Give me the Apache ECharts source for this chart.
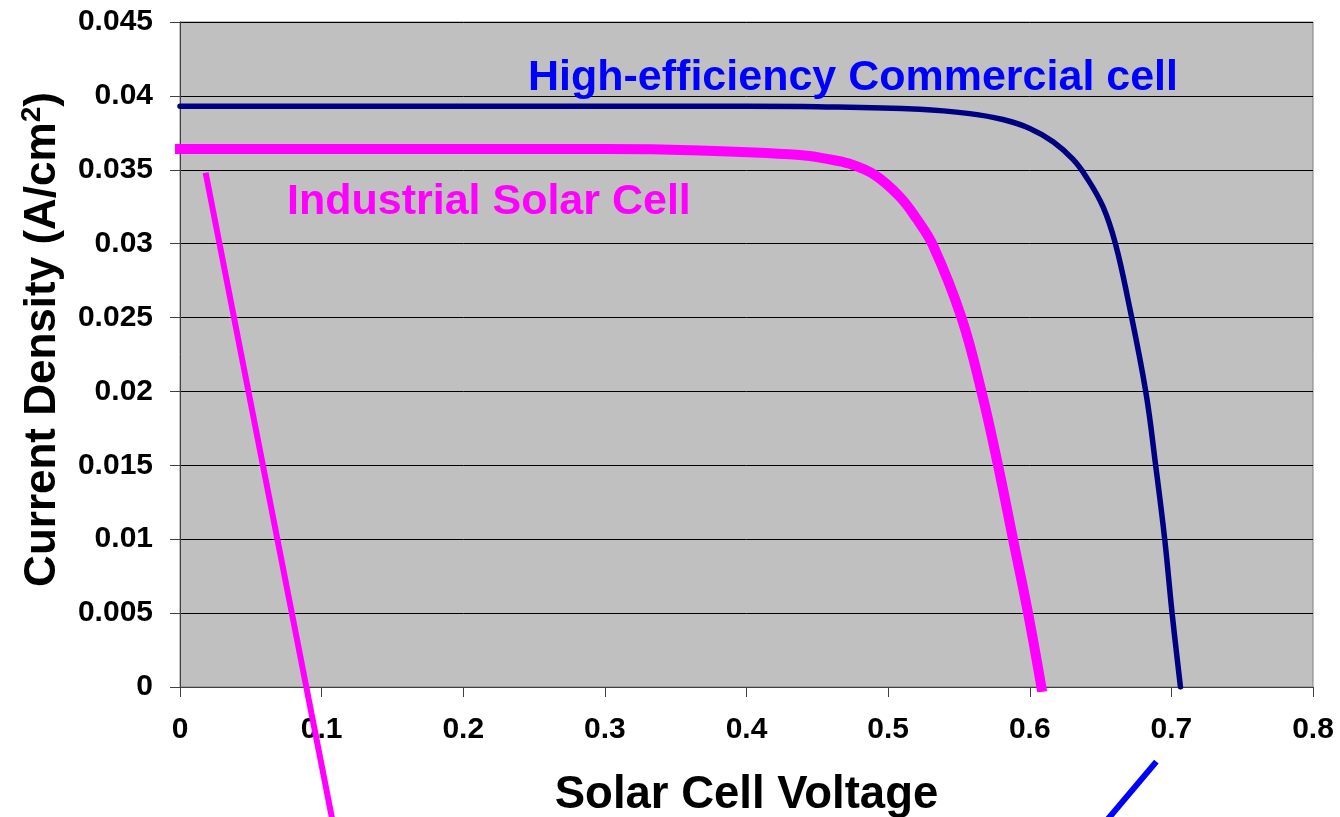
<!DOCTYPE html>
<html>
<head>
<meta charset="utf-8">
<script src="https://cdn.jsdelivr.net/npm/echarts@6/dist/echarts.min.js"></script>
<style>
html,body{margin:0;padding:0;background:#fff;}
#chart{width:1340px;height:817px;}
</style>
</head>
<body>
<div id="chart"></div>
<script>
// High-efficiency commercial cell (voltage V, current density A/cm2)
const highV = [0, 0.1, 0.2, 0.3, 0.4, 0.45, 0.5223, 0.5576, 0.581, 0.600, 0.6165, 0.6306, 0.640, 0.6517, 0.6605, 0.6694, 0.6819, 0.6889, 0.6953, 0.7005, 0.7064];
const highJ = [0.0393, 0.0393, 0.0393, 0.0393, 0.0393, 0.03927, 0.0391, 0.0388, 0.0384, 0.0378, 0.0369, 0.0357, 0.0345, 0.0325, 0.0300, 0.0262, 0.0200, 0.0150, 0.0100, 0.0050, 0];
// Industrial solar cell
const indV = [0, 0.1, 0.2, 0.3, 0.367, 0.4376, 0.456, 0.473, 0.4906, 0.508, 0.520, 0.5316, 0.5518, 0.5659, 0.5776, 0.5882, 0.5988, 0.6082];
const indJ = [0.0364, 0.0364, 0.0364, 0.0364, 0.0363, 0.0360, 0.03575, 0.0354, 0.03465, 0.0332, 0.0317, 0.0299, 0.0250, 0.0200, 0.0150, 0.0100, 0.0050, 0];
// Annotation pointer lines
const pinkPointerV = [0.0181, 0.1086];
const pinkPointerJ = [0.0348, -0.0095];
const bluePointerV = [0.6894, 0.6502];
const bluePointerJ = [-0.00505, -0.0095];
// Labels
const xTickLabels = ['0', '0.1', '0.2', '0.3', '0.4', '0.5', '0.6', '0.7', '0.8'];
const yTickLabels = ['0', '0.005', '0.01', '0.015', '0.02', '0.025', '0.03', '0.035', '0.04', '0.045'];
const highLabel = 'High-efficiency Commercial cell';
const indLabel = 'Industrial Solar Cell';
const xTitle = 'Solar Cell Voltage';

const zip = (a, b) => a.map((v, i) => [v, b[i]]);
const FONT = '"Liberation Sans", Arial, sans-serif';

const chart = echarts.init(document.getElementById('chart'), null, {renderer: 'canvas'});
chart.setOption({
  animation: false,
  backgroundColor: '#ffffff',
  grid: {
    left: 180, right: 27, top: 22, bottom: 130,
    outerBoundsMode: 'none', containLabel: false,
    show: true, backgroundColor: '#C0C0C0', borderColor: '#808080', borderWidth: 1
  },
  xAxis: {
    type: 'value', min: 0, max: 0.8, interval: 0.1,
    name: xTitle, nameLocation: 'middle', nameGap: 85,
    nameTextStyle: {fontFamily: FONT, fontSize: 45.5, fontWeight: 'bold', color: '#000'},
    axisLine: {show: true, onZero: false, lineStyle: {color: '#404040', width: 1}},
    axisTick: {show: true, inside: false, length: 10, lineStyle: {color: '#404040'}},
    splitLine: {show: false},
    axisLabel: {
      fontFamily: FONT, fontSize: 30, fontWeight: 'bold', color: '#000', margin: 28,
      formatter: (v) => xTickLabels[Math.round(v / 0.1)]
    }
  },
  yAxis: {
    type: 'value', min: 0, max: 0.045, interval: 0.005,
    name: 'Current Density (A/cm{sup|2})', nameLocation: 'middle', nameGap: 112, nameRotate: 90,
    nameTextStyle: {
      fontFamily: FONT, fontSize: 44, fontWeight: 'bold', color: '#000',
      padding: [0, 0, 0, 30],
      rich: {sup: {fontFamily: FONT, fontSize: 28, fontWeight: 'bold', color: '#000', verticalAlign: 'top', padding: [0, 0, 22, 0]}}
    },
    axisLine: {show: true, lineStyle: {color: '#404040', width: 1}},
    axisTick: {show: true, inside: false, length: 10, lineStyle: {color: '#404040'}},
    splitLine: {show: true, lineStyle: {color: '#000', width: 1}},
    axisLabel: {
      fontFamily: FONT, fontSize: 30, fontWeight: 'bold', color: '#000', margin: 27,
      formatter: (v) => yTickLabels[Math.round(v / 0.005)]
    }
  },
  series: [
    {
      type: 'line', name: highLabel, data: zip(highV, highJ), smooth: 0.4,
      showSymbol: false, lineStyle: {color: '#000080', width: 5.5, cap: 'round'}, z: 3
    },
    {
      type: 'line', name: indLabel, data: zip(indV, indJ), smooth: 0.4,
      showSymbol: false, lineStyle: {color: '#FF00FF', width: 10, cap: 'square'}, z: 4
    },
    {
      type: 'line', data: zip(pinkPointerV, pinkPointerJ), clip: false,
      showSymbol: false, lineStyle: {color: '#FF00FF', width: 6}, z: 5
    },
    {
      type: 'line', data: zip(bluePointerV, bluePointerJ), clip: false,
      showSymbol: false, lineStyle: {color: '#0000FF', width: 6}, z: 5
    }
  ],
  graphic: [
    {type: 'text', left: 528, top: 57, z: 10,
     style: {text: highLabel, fill: '#0000FF', font: 'bold 43px ' + FONT}},
    {type: 'text', left: 287, top: 181, z: 10,
     style: {text: indLabel, fill: '#FF00FF', font: 'bold 43px ' + FONT}}
  ]
});
</script>
</body>
</html>
